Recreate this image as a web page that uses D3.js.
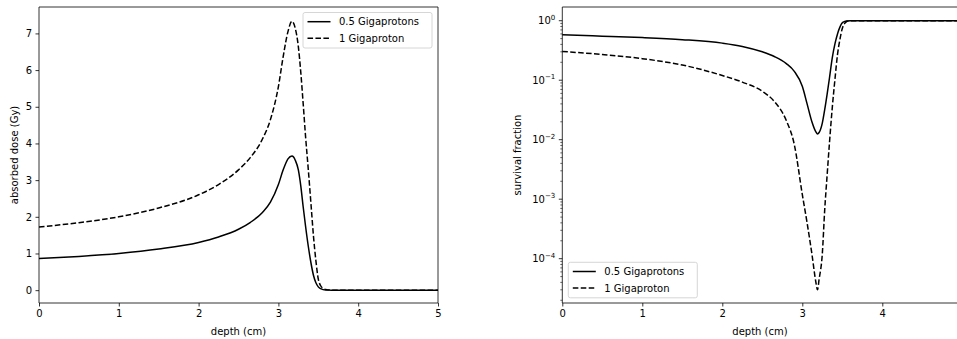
<!DOCTYPE html>
<html>
<head>
<meta charset="utf-8">
<script src="https://cdn.jsdelivr.net/npm/d3@7"></script>
<style>
  body { margin: 0; background: #fff; }
  svg { display: block; font-family: "DejaVu Sans", sans-serif; }
</style>
</head>
<body>
<div id="chart"></div>
<script>
// Sampled depths (cm) shared by all four curves
const depth = [0, 0.5, 1, 1.5, 2, 2.25, 2.5, 2.65, 2.8, 2.9, 3.0, 3.06, 3.12, 3.17, 3.19, 3.21, 3.25, 3.28, 3.31, 3.34, 3.375, 3.41, 3.44, 3.47, 3.5, 3.53, 3.56, 3.6, 3.65, 3.7, 4, 4.5, 5];

// Absorbed dose (Gy)
const dose05 = [0.86, 0.92, 1.00, 1.12, 1.30, 1.45, 1.66, 1.85, 2.12, 2.40, 2.88, 3.28, 3.58, 3.66, 3.63, 3.55, 3.28, 2.85, 2.28, 1.75, 1.19, 0.72, 0.40, 0.20, 0.09, 0.04, 0.015, 0.005, 0.001, 0, 0, 0, 0];
const dose1 = [1.72, 1.84, 2.00, 2.24, 2.60, 2.88, 3.28, 3.62, 4.12, 4.65, 5.55, 6.37, 7.05, 7.33, 7.28, 7.15, 6.64, 5.95, 5.10, 4.20, 3.28, 2.30, 1.46, 0.80, 0.30, 0.12, 0.05, 0.015, 0.003, 0, 0, 0, 0];

// Survival fraction
const surv05 = [0.58, 0.55, 0.52, 0.48, 0.42, 0.37, 0.30, 0.25, 0.19, 0.141, 0.079, 0.040, 0.020, 0.0135, 0.0125, 0.0132, 0.019, 0.032, 0.058, 0.11, 0.24, 0.42, 0.60, 0.78, 0.92, 0.97, 0.99, 1, 1, 1, 1, 1, 1];
const surv1 = [0.305, 0.27, 0.23, 0.18, 0.12, 0.093, 0.065, 0.044, 0.021, 0.0083, 0.0012, 0.0004, 0.00012, 0.00004, 0.00003, 0.000045, 0.00012, 0.00066, 0.0025, 0.009, 0.035, 0.11, 0.27, 0.48, 0.74, 0.90, 0.98, 1, 1, 1, 1, 1, 1];

const seriesLabels = ['0.5 Gigaprotons', '1 Gigaproton'];
const doseTicks = [0, 1, 2, 3, 4, 5, 6, 7];
const leftXTicks = [0, 1, 2, 3, 4, 5];
const rightXTicks = [0, 1, 2, 3, 4];
const survExps = [0, -1, -2, -3, -4];

const W = 957, H = 339;
const svg = d3.select('#chart').append('svg')
  .attr('width', W)
  .attr('height', H);

const dashes = [null, '5.55,2.4'];

// ---------- left panel: absorbed dose ----------
const xL = d3.scaleLinear().domain([0, 5]).range([39, 438]);
const yL = d3.scaleLinear().domain([-0.35, 7.72]).range([303, 7]);

const lineL = d3.line()
  .x((d, i) => xL(depth[i]))
  .y(d => yL(d))
  .curve(d3.curveMonotoneX);

const gL = svg.append('g');
[dose05, dose1].forEach((s, k) => {
  gL.append('path')
    .attr('d', lineL(s))
    .attr('fill', 'none')
    .attr('stroke', '#000')
    .attr('stroke-width', 1.5)
    .attr('stroke-dasharray', dashes[k]);
});

drawFrame(gL, 39, 438, 7, 303, true);

const axL = svg.append('g').attr('transform', 'translate(0,303)')
  .call(d3.axisBottom(xL).tickValues(leftXTicks).tickFormat(d3.format('d')).tickSize(3.5).tickPadding(3.5));
const ayL = svg.append('g').attr('transform', 'translate(39,0)')
  .call(d3.axisLeft(yL).tickValues(doseTicks).tickFormat(d3.format('d')).tickSize(3.5).tickPadding(3.5));
styleAxis(axL); styleAxis(ayL);

svg.append('text')
  .attr('x', (39 + 438) / 2).attr('y', 335)
  .attr('text-anchor', 'middle').attr('font-size', 10)
  .text('depth (cm)');
svg.append('text')
  .attr('transform', 'translate(18,155) rotate(-90)')
  .attr('text-anchor', 'middle').attr('font-size', 10)
  .text('absorbed dose (Gy)');

drawLegend(303, 12.5, 129, 35.5);

// ---------- right panel: survival fraction ----------
const xR = d3.scaleLinear().domain([0, 5]).range([562.3, 962.3]);
const yR = d3.scaleLog().domain([1.8e-5, 1.7]).range([303, 7]);

const lineR = d3.line()
  .x((d, i) => xR(depth[i]))
  .y(d => yR(d))
  .curve(d3.curveMonotoneX);

const gR = svg.append('g');
[surv05, surv1].forEach((s, k) => {
  gR.append('path')
    .attr('d', lineR(s))
    .attr('fill', 'none')
    .attr('stroke', '#000')
    .attr('stroke-width', 1.5)
    .attr('stroke-dasharray', dashes[k]);
});

drawFrame(gR, 562.3, 962.3, 7, 303, false);

const axR = svg.append('g').attr('transform', 'translate(0,303)')
  .call(d3.axisBottom(xR).tickValues(rightXTicks).tickFormat(d3.format('d')).tickSize(3.5).tickPadding(3.5));
styleAxis(axR);

// log axis: minor ticks then major ticks with superscript labels
const minor = [];
for (let e = -5; e <= 0; e++) {
  for (let m = 2; m <= 9; m++) {
    const v = m * Math.pow(10, e);
    if (v >= 1.8e-5 && v <= 1.7) minor.push(v);
  }
}
svg.append('g').selectAll('line').data(minor).enter().append('line')
  .attr('x1', 562.3).attr('x2', 560.3)
  .attr('y1', d => yR(d)).attr('y2', d => yR(d))
  .attr('stroke', '#000').attr('stroke-width', 0.6);

const major = svg.append('g').selectAll('g').data(survExps).enter().append('g')
  .attr('transform', d => `translate(562.3,${yR(Math.pow(10, d))})`);
major.append('line').attr('x1', 0).attr('x2', -3.5)
  .attr('stroke', '#000').attr('stroke-width', 0.8);
const lbl = major.append('text')
  .attr('x', -7).attr('y', 3.5)
  .attr('text-anchor', 'end').attr('font-size', 10);
lbl.append('tspan').text('10');
lbl.append('tspan')
  .attr('dy', -4.5).attr('font-size', 7)
  .text(d => d === 0 ? '0' : '\u2212' + (-d));

svg.append('text')
  .attr('x', 760).attr('y', 335)
  .attr('text-anchor', 'middle').attr('font-size', 10)
  .text('depth (cm)');
svg.append('text')
  .attr('transform', 'translate(521,155) rotate(-90)')
  .attr('text-anchor', 'middle').attr('font-size', 10)
  .text('survival fraction');

drawLegend(568.3, 262.3, 129, 35.5);

// ---------- helpers ----------
function drawFrame(g, x0, x1, y0, y1, right) {
  const s = g.append('g').attr('stroke', '#000').attr('stroke-width', 0.8);
  s.append('line').attr('x1', x0).attr('x2', x1).attr('y1', y0).attr('y2', y0);
  s.append('line').attr('x1', x0).attr('x2', x1).attr('y1', y1).attr('y2', y1);
  s.append('line').attr('x1', x0).attr('x2', x0).attr('y1', y0).attr('y2', y1);
  if (right) s.append('line').attr('x1', x1).attr('x2', x1).attr('y1', y0).attr('y2', y1);
}

function styleAxis(a) {
  a.select('.domain').remove();
  a.selectAll('.tick line').attr('stroke', '#000').attr('stroke-width', 0.8);
  a.selectAll('.tick text').attr('font-size', 10).attr('fill', '#000')
    .attr('font-family', '"DejaVu Sans", sans-serif');
}

function drawLegend(x, y, w, h) {
  const g = svg.append('g').attr('transform', `translate(${x},${y})`);
  g.append('rect')
    .attr('width', w).attr('height', h).attr('rx', 2)
    .attr('fill', '#fff').attr('fill-opacity', 0.8)
    .attr('stroke', '#ccc').attr('stroke-width', 0.8);
  const items = g.selectAll('.legend-item')
    .data(seriesLabels)
    .enter()
    .append('g')
    .attr('class', 'legend-item')
    .attr('transform', (d, i) => `translate(0, ${9.2 + i * 16.6})`);
  items.append('line')
    .attr('x1', 4.5).attr('x2', 27.5)
    .attr('stroke', '#000').attr('stroke-width', 1.5)
    .attr('stroke-dasharray', (d, i) => dashes[i]);
  items.append('text')
    .attr('x', 36).attr('y', 3.6)
    .attr('font-size', 10)
    .text(d => d);
}
</script>
</body>
</html>
